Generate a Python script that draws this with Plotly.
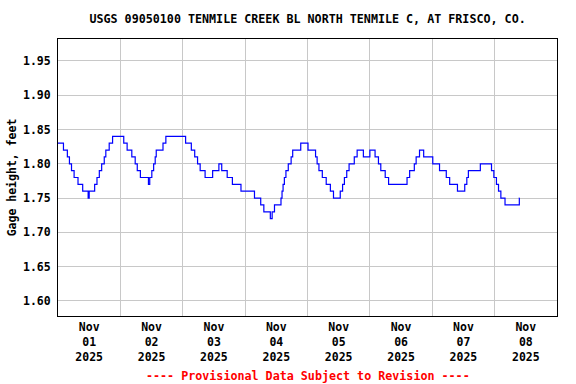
import pandas as pd
import plotly.graph_objects as go

# Step-change readings: hours after 2025-11-01 00:00 and gage height (feet)
hours = [0.0, 2.1, 3.6, 4.4, 5.2, 6.2, 7.7, 9.5, 11.6, 12.0, 14.1, 15.0, 15.9, 16.8,
         17.8, 18.4, 19.7, 21.0, 25.3, 26.6, 28.4, 29.7, 30.5, 31.7, 34.8, 35.3,
         36.1, 36.8, 37.4, 37.8, 40.4, 41.5, 49.1, 51.3, 52.6, 53.7, 54.7, 56.6,
         59.5, 61.9, 63.0, 65.1, 67.1, 70.4, 75.6, 78.0, 79.2, 81.7, 82.4, 83.3,
         85.8, 86.2, 86.6, 87.1, 87.7, 88.6, 89.7, 90.3, 93.4, 96.2, 99.1, 99.7,
         100.4, 101.7, 103.2, 104.8, 106.0, 108.6, 109.5, 110.2, 111.1, 112.0,
         114.0, 115.1, 117.5, 120.0, 122.0, 123.3, 124.2, 125.9, 127.2, 134.3,
         135.3, 137.1, 137.8, 139.1, 140.7, 144.2, 146.8, 149.4, 150.7, 153.7,
         156.5, 157.3, 157.9, 162.5, 166.8, 167.7, 168.7, 169.5, 170.4, 172.0,
         177.5, 177.6]
gage = [1.83, 1.82, 1.81, 1.80, 1.79, 1.78, 1.77, 1.76, 1.75, 1.76, 1.77, 1.78, 1.79, 1.80,
        1.81, 1.82, 1.83, 1.84, 1.83, 1.82, 1.81, 1.80, 1.79, 1.78, 1.77, 1.78,
        1.79, 1.80, 1.81, 1.82, 1.83, 1.84, 1.83, 1.82, 1.81, 1.80, 1.79, 1.78,
        1.79, 1.80, 1.79, 1.78, 1.77, 1.76, 1.75, 1.74, 1.73, 1.72, 1.73, 1.74,
        1.75, 1.76, 1.77, 1.78, 1.79, 1.80, 1.81, 1.82, 1.83, 1.82, 1.81, 1.80,
        1.79, 1.78, 1.77, 1.76, 1.75, 1.76, 1.77, 1.78, 1.79, 1.80,
        1.81, 1.82, 1.81, 1.82, 1.81, 1.80, 1.79, 1.78, 1.77, 1.78,
        1.79, 1.80, 1.81, 1.82, 1.81, 1.80, 1.79, 1.78, 1.77, 1.76,
        1.77, 1.78, 1.79, 1.80, 1.79, 1.78, 1.77, 1.76, 1.75, 1.74,
        1.75, 1.75]

days = ["01", "02", "03", "04", "05", "06", "07", "08"]
y_ticks = [1.60, 1.65, 1.70, 1.75, 1.80, 1.85, 1.90, 1.95]

start = pd.Timestamp("2025-11-01 00:00")
times = [start + pd.Timedelta(hours=h) for h in hours]
noon = [pd.Timestamp(f"2025-11-{d} 12:00") for d in days]
ticktext = [f"<b>Nov</b><br><b>{d}</b><br><b>2025</b>" for d in days]

FONT = "DejaVu Sans Mono"

fig = go.Figure()
fig.add_trace(go.Scatter(x=times, y=gage, mode="lines", line_shape="hv",
                         line=dict(color="#0000FF", width=1.2), hoverinfo="skip"))

fig.update_layout(
    width=576, height=384,
    margin=dict(l=58, r=19, t=39, b=68),
    paper_bgcolor="white", plot_bgcolor="white",
    showlegend=False,
    font=dict(family=FONT, size=12, color="black"),
    title=dict(text="<b>USGS 09050100 TENMILE CREEK BL NORTH TENMILE C, AT FRISCO, CO.</b>",
               x=0.534, xanchor="center", y=0.95, yanchor="middle",
               font=dict(family=FONT, size=11.7, color="black")),
)

fig.update_xaxes(
    type="date", automargin=False,
    range=["2025-11-01 00:00", "2025-11-09 00:00"],
    tickmode="array", tickvals=noon, ticktext=ticktext,
    showgrid=False, ticks="", zeroline=False,
    tickfont=dict(family=FONT, size=11.5, color="black"),
    showline=True, linecolor="black", linewidth=1, mirror=True,
    minor=dict(tick0="2025-11-01", dtick=86400000, showgrid=True,
               gridcolor="#C8C8C8", gridwidth=1, ticks=""),
)

fig.update_yaxes(
    automargin=False,
    range=[1.578, 1.982],
    tickmode="array", tickvals=y_ticks,
    ticktext=[f"<b>{v:.2f}</b>" for v in y_ticks],
    showgrid=True, gridcolor="#C8C8C8", gridwidth=1, zeroline=False, ticks="",
    ticklabelstandoff=4,
    tickfont=dict(family=FONT, size=11.5, color="black"),
    showline=True, linecolor="black", linewidth=1, mirror=True,
    title=dict(text="<b>Gage height, feet</b>", standoff=3,
               font=dict(family=FONT, size=11.5, color="black")),
)

fig.add_annotation(
    text="<b>---- Provisional Data Subject to Revision ----</b>",
    xref="paper", yref="paper", x=0.5, y=-0.215, xanchor="center", yanchor="middle",
    showarrow=False, font=dict(family=FONT, size=11.7, color="#FF0000"),
)

fig.write_html("out.html", config={"displayModeBar": False},
               post_script="document.body.style.margin='0px';")
